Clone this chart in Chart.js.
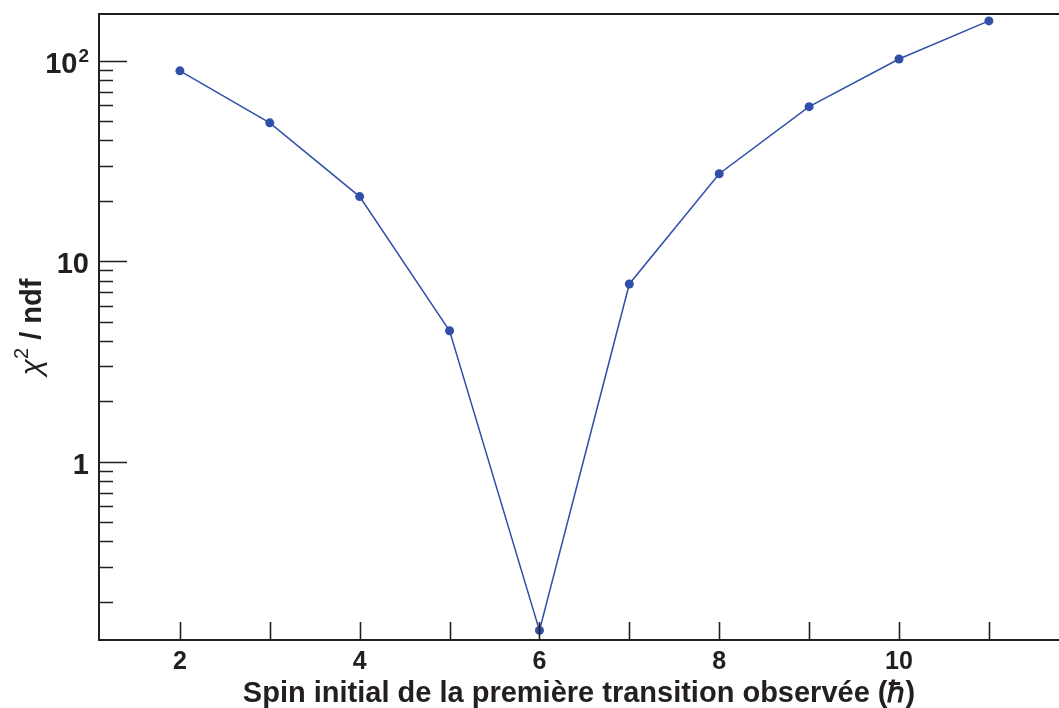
<!DOCTYPE html>
<html lang="fr">
<head>
<meta charset="UTF-8">
<title>Chi2 / ndf vs spin</title>
<script src="https://cdn.jsdelivr.net/npm/chart.js"></script>
<style>
    body { margin: 0; padding: 0; background: #fff; }
    #wrap { width: 1059px; height: 708px; position: relative; }
</style>
</head>
<body>
<div id="wrap"><canvas id="chart" width="1059" height="708"></canvas></div>
<script>
// data
const spins = [2, 3, 4, 5, 6, 7, 8, 9, 10, 11];
const chi2ndf = [89, 49, 21, 4.5, 0.144, 7.7, 27.3, 59, 102, 158];

const xTicks = [2, 3, 4, 5, 6, 7, 8, 9, 10, 11];
const xLabels = [2, 4, 6, 8, 10];
const yMajor = [1, 10, 100];
const yMajorText = ['1', '10', '10'];
const yMajorExp = ['', '', '2'];
const yMinor = [0.2, 0.3, 0.4, 0.5, 0.6, 0.7, 0.8, 0.9, 2, 3, 4, 5, 6, 7, 8, 9, 20, 30, 40, 50, 60, 70, 80, 90];

const axisColor = '#231f20';
const lineColor = '#3050a8';
const font = '"Liberation Sans", Arial, Helvetica, sans-serif';

// inward ticks, frame, y labels and y title, drawn with the scales' own pixel mapping
const frameTicks = {
    id: 'frameTicks',
    afterDraw(chart) {
        const ctx = chart.ctx;
        const a = chart.chartArea;
        const xs = chart.scales.x, ys = chart.scales.y;
        ctx.save();
        ctx.strokeStyle = axisColor;
        ctx.lineWidth = 2;
        ctx.beginPath();
        ctx.moveTo(a.right, a.top);
        ctx.lineTo(a.left, a.top);
        ctx.lineTo(a.left, a.bottom);
        ctx.lineTo(a.right, a.bottom);
        ctx.stroke();

        ctx.lineWidth = 1.6;
        ctx.beginPath();
        xTicks.forEach(v => {
            const px = Math.round(xs.getPixelForValue(v)) + 0.5;
            ctx.moveTo(px, a.bottom);
            ctx.lineTo(px, a.bottom - 18);
        });
        yMajor.forEach(v => {
            const py = Math.round(ys.getPixelForValue(v)) + 0.5;
            ctx.moveTo(a.left, py);
            ctx.lineTo(a.left + 28, py);
        });
        yMinor.forEach(v => {
            const py = Math.round(ys.getPixelForValue(v)) + 0.5;
            if (py < a.top || py > a.bottom) return;
            ctx.moveTo(a.left, py);
            ctx.lineTo(a.left + 14, py);
        });
        ctx.stroke();

        // y tick labels with superscript exponent
        ctx.fillStyle = axisColor;
        ctx.textBaseline = 'alphabetic';
        ctx.textAlign = 'left';
        yMajor.forEach((v, i) => {
            const py = ys.getPixelForValue(v);
            const base = 'bold 29px ' + font;
            const sup = 'bold 19px ' + font;
            ctx.font = base;
            const w1 = ctx.measureText(yMajorText[i]).width;
            ctx.font = sup;
            const w2 = yMajorExp[i] ? ctx.measureText(yMajorExp[i]).width + 1 : 0;
            const right = a.left - 10;
            const x0 = right - w1 - w2;
            ctx.font = base;
            ctx.fillText(yMajorText[i], x0, py + 12);
            if (yMajorExp[i]) {
                ctx.font = sup;
                ctx.fillText(yMajorExp[i], x0 + w1 + 1, py + 1);
            }
        });

        // y axis title: chi^2 / ndf
        const parts = [
            { t: 'χ', f: 'italic 30px ' + font, dy: 0 },
            { t: '2', f: '20px ' + font, dy: -13 },
            { t: ' / ndf', f: 'bold 29px ' + font, dy: 0 }
        ];
        let total = 0;
        parts.forEach(p => { ctx.font = p.f; p.w = ctx.measureText(p.t).width; total += p.w; });
        const cy = (a.top + a.bottom) / 2;
        ctx.translate(41, cy);
        ctx.rotate(-Math.PI / 2);
        let cx = -total / 2;
        parts.forEach(p => {
            ctx.font = p.f;
            ctx.fillText(p.t, cx, p.dy);
            cx += p.w;
        });
        ctx.restore();
    }
};

new Chart(document.getElementById('chart'), {
    type: 'scatter',
    data: {
        datasets: [{
            data: spins.map((s, i) => ({ x: s, y: chi2ndf[i] })),
            showLine: true,
            borderColor: lineColor,
            backgroundColor: lineColor,
            borderWidth: 1.5,
            pointRadius: 4.5,
            pointBorderWidth: 0,
            tension: 0,
            clip: false
        }]
    },
    options: {
        responsive: false,
        animation: false,
        layout: { autoPadding: false, padding: { top: 14, right: 0, left: 0, bottom: 0 } },
        plugins: { legend: { display: false }, tooltip: { enabled: false } },
        scales: {
            x: {
                type: 'linear',
                min: 1.1,
                max: 11.78,
                border: { display: false },
                grid: { display: false, drawTicks: false },
                afterBuildTicks: (scale) => { scale.ticks = xLabels.map(v => ({ value: v })); },
                afterFit: (scale) => { scale.height = 68; scale.paddingLeft = 0; scale.paddingRight = 0; },
                ticks: {
                    color: axisColor,
                    padding: 7,
                    maxRotation: 0,
                    font: { family: font, size: 25, weight: 'bold' }
                },
                title: {
                    display: true,
                    text: 'Spin initial de la première transition observée (ℏ)',
                    color: axisColor,
                    padding: { top: 0, bottom: 0 },
                    font: { family: font, size: 29, weight: 'bold', lineHeight: 1.0 }
                }
            },
            y: {
                type: 'logarithmic',
                min: 0.129,
                max: 171,
                border: { display: false },
                grid: { display: false, drawTicks: false },
                afterBuildTicks: (scale) => { scale.ticks = yMajor.map(v => ({ value: v })); },
                afterFit: (scale) => { scale.width = 99; scale.paddingTop = 0; scale.paddingBottom = 0; },
                ticks: { display: false },
                title: { display: false }
            }
        }
    },
    plugins: [frameTicks]
});
</script>
</body>
</html>
